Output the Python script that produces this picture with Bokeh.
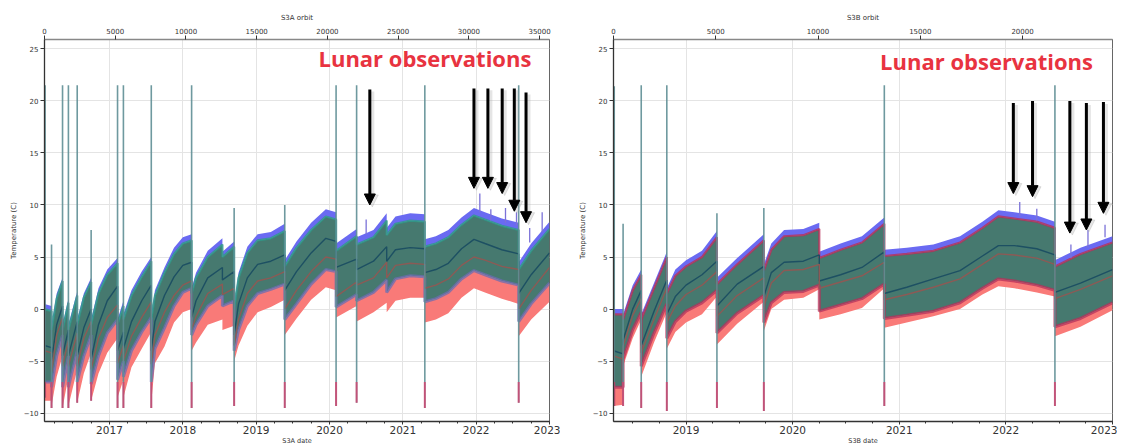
import numpy as np
from bokeh.plotting import figure
from bokeh.models import (Range1d, LinearAxis, FixedTicker, Label, Arrow, NormalHead,
                          ColumnDataSource)
from bokeh.layouts import row
from bokeh.embed import file_html
from bokeh.resources import INLINE

# ---------------- S3A (left panel) ----------------
a_dates = [2016.114, 2016.21,
           2016.21, 2016.28, 2016.36,
           2016.36, 2016.44,
           2016.44, 2016.56,
           2016.56, 2016.65, 2016.75,
           2016.75, 2016.85, 2016.97, 2017.11,
           2017.11, 2017.19,
           2017.19, 2017.30, 2017.44, 2017.57,
           2017.57, 2017.62, 2017.75, 2017.88, 2018.00, 2018.12,
           2018.12, 2018.18, 2018.34, 2018.54,
           2018.54, 2018.70,
           2018.70, 2018.76, 2018.88, 2019.02, 2019.20, 2019.39,
           2019.39, 2019.55, 2019.75, 2019.95, 2020.09,
           2020.09, 2020.37,
           2020.37, 2020.60, 2020.78,
           2020.78, 2020.90, 2021.10, 2021.30,
           2021.30, 2021.45, 2021.62, 2021.80, 2021.97, 2022.12, 2022.35, 2022.58,
           2022.58, 2022.75, 2023.00]
a_blue_top = [0.5, 0.3,
              -1.5, 1.5, 3.0,
              -1.5, 1.0,
              -1.5, 1.7,
              -1.0, 1.5, 3.0,
              -1.0, 2.0, 3.8, 4.9,
              -1.0, 0.8,
              -0.5, 1.8, 3.6, 5.0,
              -0.5, 1.8, 4.0, 5.9, 6.9, 7.2,
              2.0, 3.5, 5.6, 6.8,
              5.5, 6.5,
              0.5, 3.5, 6.0, 7.2, 7.4, 8.2,
              4.7, 6.5, 8.3, 9.6, 9.3,
              6.3, 7.7,
              6.9, 7.6, 9.2,
              7.8, 8.9, 9.2, 9.1,
              6.7, 7.0, 7.6, 8.8, 9.7, 9.3, 8.7, 8.3,
              4.5, 6.3, 8.4]
a_green_top = [0.0, -0.2,
               -2.0, 1.0, 2.7,
               -2.0, 0.6,
               -2.0, 1.3,
               -1.5, 1.1, 2.6,
               -1.5, 1.5, 3.3, 4.4,
               -1.5, 0.3,
               -1.0, 1.3, 3.1, 4.6,
               -1.0, 1.3, 3.5, 5.3, 6.3, 6.6,
               1.5, 3.0, 5.0, 6.2,
               5.0, 6.0,
               0.0, 3.0, 5.4, 6.6, 6.8, 7.5,
               4.1, 5.9, 7.6, 8.9, 8.6,
               5.6, 7.0,
               6.2, 6.9, 8.5,
               7.1, 8.2, 8.5, 8.4,
               6.0, 6.3, 6.9, 8.1, 9.0, 8.6, 8.0, 7.6,
               3.8, 5.6, 7.7]
a_teal_line = [-3.5, -3.7,
               -5.0, -1.5, 0.3,
               -4.5, -2.0,
               -4.5, -1.2,
               -4.5, -1.8, 0.0,
               -4.8, -1.5, 0.8, 2.2,
               -4.0, -2.2,
               -3.8, -1.2, 0.8, 2.3,
               -4.0, -1.2, 1.3, 3.1, 4.2, 4.5,
               -0.8, 0.8, 3.0, 4.0,
               2.8, 3.6,
               -2.5, 0.5, 3.0, 4.3, 4.6, 5.2,
               1.8, 3.6, 5.4, 6.8, 6.5,
               4.0, 4.8,
               3.8, 4.6, 6.0,
               4.6, 5.7, 5.9, 5.8,
               3.5, 3.8, 4.4, 5.8, 6.7, 6.3, 5.7, 5.3,
               1.5, 3.3, 5.4]
a_brown_line = [-4.0, -4.2,
                -6.0, -2.5, -0.8,
                -5.5, -3.0,
                -5.5, -2.3,
                -5.5, -2.8, -1.2,
                -5.8, -2.8, -0.8, 0.4,
                -5.2, -3.5,
                -5.0, -2.6, -0.8, 0.7,
                -5.3, -2.5, -0.3, 1.3, 2.3, 2.7,
                -2.0, -0.7, 1.5, 2.4,
                1.4, 2.0,
                -3.5, -1.0, 1.5, 2.7, 3.0, 3.6,
                0.0, 1.8, 3.6, 5.0, 4.8,
                1.2, 2.6,
                2.3, 3.0, 4.5,
                3.0, 4.2, 4.4, 4.3,
                2.0, 2.3, 2.9, 4.2, 5.0, 4.7, 4.1, 3.8,
                0.0, 1.8, 4.0]
a_green_bottom = [-7.0, -7.0,
                  -7.5, -4.5, -2.5,
                  -7.5, -4.5,
                  -7.5, -4.0,
                  -7.0, -4.5, -2.5,
                  -7.2, -4.5, -2.3, -1.0,
                  -6.8, -5.0,
                  -6.5, -4.0, -2.2, -0.8,
                  -7.0, -3.8, -1.8, 0.3, 1.6, 2.0,
                  -2.5, -1.5, 0.3, 1.3,
                  0.3, 0.8,
                  -4.0, -2.0, 0.3, 1.5, 1.9, 2.4,
                  -1.0, 0.5, 2.4, 3.8, 3.6,
                  0.2, 1.4,
                  0.8, 1.6, 2.8,
                  1.6, 2.9, 3.2, 3.1,
                  0.7, 1.0, 1.6, 2.9, 3.7, 3.3, 2.7, 2.3,
                  -1.2, 0.5, 2.5]
a_red_bottom = [-8.8, -8.8,
                -9.3, -6.5, -4.5,
                -9.5, -6.5,
                -9.3, -5.8,
                -9.0, -6.2, -4.2,
                -8.8, -6.2, -4.2, -2.8,
                -8.5, -6.8,
                -8.5, -5.6, -3.8, -2.2,
                -9.0, -5.2, -3.6, -1.3, -0.3, 0.0,
                -4.0, -3.2, -1.5, -1.0,
                -2.0, -1.6,
                -5.0, -3.5, -1.6, -0.3, 0.2, 0.9,
                -2.5, -0.9, 0.9, 2.1, 1.8,
                -0.8, 0.3,
                -1.2, -0.3, 0.6,
                -0.3, 0.8, 1.1, 1.1,
                -1.3, -1.0, -0.4, 1.1, 2.0, 1.6, 1.0, 0.5,
                -2.6, -1.0, 0.7]
a_spike_dates = [2016.122, 2016.21, 2016.36, 2016.44, 2016.56, 2016.75, 2017.11, 2017.19,
                 2017.57, 2018.12, 2018.70, 2019.39, 2020.09, 2020.37, 2021.30, 2022.58]
a_spike_tops = [21.5, 6.2, 21.5, 21.5, 21.5, 7.6, 21.5, 21.5,
                21.5, 21.5, 9.7, 10.0, 21.5, 21.5, 21.5, 21.5]
a_spike_bottoms = [-8.5, -9.5, -9.5, -9.5, -9.0, -8.8, -9.5, -9.5,
                   -9.5, -9.5, -9.3, -9.5, -9.3, -9.0, -9.5, -9.0]
a_lunar_dates = [2020.50, 2022.05, 2022.20, 2022.40, 2022.55, 2022.73, 2022.90]
a_lunar_tops = [8.6, 11.1, 9.6, 9.7, 9.3, 7.8, 9.3]
a_lunar_bases = [7.2, 9.3, 8.5, 8.3, 8.0, 6.4, 7.4]
a_arrow_dates = [2020.55, 2021.97, 2022.16, 2022.355, 2022.52, 2022.68]
a_arrow_tips = [10.0, 11.6, 11.6, 11.1, 9.4, 8.3]
a_arrow_tails = [21.1, 21.2, 21.2, 21.2, 21.2, 20.8]
a_year_ticks = [2017, 2018, 2019, 2020, 2021, 2022, 2023]
a_orbit_ticks = [0, 5000, 10000, 15000, 20000, 25000, 30000, 35000]

# ---------------- S3B (right panel) ----------------
b_dates = [2018.32, 2018.41,
           2018.41, 2018.50, 2018.58,
           2018.58, 2018.70, 2018.82,
           2018.82, 2018.90, 2019.00, 2019.15, 2019.29,
           2019.29, 2019.48, 2019.73,
           2019.73, 2019.80, 2019.92, 2020.10, 2020.25,
           2020.25, 2020.45, 2020.65, 2020.86,
           2020.86, 2021.07, 2021.32, 2021.57, 2021.78, 2021.93, 2022.08, 2022.29, 2022.46,
           2022.46, 2022.70, 2023.00]
b_blue_top = [0.0, 0.0,
              -0.5, 2.3, 3.8,
              -0.5, 2.5, 5.5,
              2.0, 3.8, 4.7, 5.6, 7.5,
              3.0, 4.9, 7.2,
              4.3, 6.3, 7.6, 7.7, 8.3,
              5.5, 6.3, 7.0, 8.8,
              5.7, 5.9, 6.2, 7.0, 8.4, 9.5, 9.3, 9.0, 8.4,
              4.7, 5.9, 7.0]
b_green_top = [-0.5, -0.5,
               -1.0, 1.8, 3.3,
               -1.0, 2.0, 5.0,
               1.5, 3.2, 4.1, 5.0, 6.9,
               2.4, 4.3, 6.6,
               3.7, 5.7, 7.0, 7.1, 7.7,
               4.9, 5.7, 6.4, 8.2,
               5.1, 5.3, 5.6, 6.4, 7.8, 8.9, 8.7, 8.4, 7.8,
               4.1, 5.3, 6.4]
b_teal_line = [-4.0, -4.3,
               -3.0, 0.0, 1.8,
               -3.5, -0.2, 2.8,
               -0.5, 1.2, 2.3, 3.3, 4.6,
               0.3, 2.4, 4.1,
               1.2, 3.5, 4.5, 4.6, 5.2,
               2.7, 3.3, 4.0, 5.5,
               1.5, 2.1, 2.9, 3.7, 5.1, 6.1, 6.1, 5.8, 5.2,
               1.6, 2.5, 3.8]
b_brown_line = [-4.5, -4.8,
                -3.6, -0.6, 1.0,
                -4.2, -1.0, 2.0,
                -1.3, 0.3, 1.4, 2.3, 3.6,
                -0.7, 1.3, 3.0,
                0.2, 2.5, 3.7, 3.8, 4.3,
                2.0, 2.6, 3.2, 4.5,
                0.9, 1.4, 2.1, 2.9, 4.3, 5.3, 5.2, 4.9, 4.3,
                1.0, 1.9, 3.2]
b_green_bottom = [-7.5, -7.5,
                  -4.8, -2.0, -0.3,
                  -5.5, -2.3, 0.5,
                  -2.8, -1.2, -0.2, 0.6, 1.8,
                  -2.3, -0.4, 1.3,
                  -1.3, 0.6, 1.6, 1.7, 2.3,
                  -0.2, 0.4, 1.0, 2.4,
                  -0.9, -0.6, -0.2, 0.6, 2.0, 2.9, 2.7, 2.3, 1.8,
                  -1.7, -0.9, 0.6]
b_red_bottom = [-9.3, -9.2,
                -5.5, -2.8, -1.0,
                -6.5, -3.2, -0.3,
                -3.8, -2.2, -1.3, -0.5, 1.2,
                -3.4, -1.4, 0.7,
                -2.1, 0.0, 0.9, 1.1, 1.9,
                -1.0, -0.5, 0.1, 2.0,
                -1.8, -1.3, -0.7, 0.0, 1.4, 2.2, 2.0, 1.6, 1.2,
                -2.6, -1.7, -0.1]
b_spike_dates = [2018.327, 2018.41, 2018.58, 2018.82, 2019.29, 2019.73, 2020.86, 2022.46]
b_spike_tops = [21.4, 8.2, 21.5, 21.5, 9.2, 9.7, 21.5, 21.5]
b_spike_bottoms = [-9.3, -9.3, -9.5, -9.8, -9.5, -9.8, -9.3, -9.3]
b_lunar_dates = [2022.13, 2022.29, 2022.61, 2022.77, 2022.93]
b_lunar_tops = [10.3, 9.65, 6.2, 7.6, 8.1]
b_lunar_bases = [8.9, 8.5, 4.9, 5.9, 6.9]
b_arrow_dates = [2022.07, 2022.25, 2022.60, 2022.755, 2022.915]
b_arrow_tips = [11.1, 10.8, 7.3, 7.6, 9.2]
b_arrow_tails = [19.8, 20.0, 20.0, 19.8, 19.9]
b_year_ticks = [2019, 2020, 2021, 2022, 2023]
b_orbit_ticks = [0, 5000, 10000, 15000, 20000]

FONT = "DejaVu Sans"
BLUE = "#6a6af2"
GREEN = "#46796f"
RED = "#f97a78"
TEAL = "#1d5063"
BROWN = "#8c5a55"
Y_LO, Y_HI = -10.8, 25.9


def make_panel(name, dates, btop, gtop, teal, brown, gbot, rbot,
               sdates, stops, sbots, ldates, ltops, lbases,
               adates, atips, atails, yticks, oticks,
               xstart, orbit_end, width, bl, br, bt, bb, label_xy, top_edge, bottom_edge):
    height = 447
    p = figure(width=width, height=height, output_backend="svg", toolbar_location=None,
               x_range=Range1d(xstart, 2023.0), y_range=Range1d(Y_LO, Y_HI),
               min_border_left=bl, min_border_right=br, min_border_top=bt,
               min_border_bottom=bb, x_axis_location=None, y_axis_location=None)
    p.background_fill_color = "white"
    p.border_fill_color = "white"
    p.outline_line_color = "#666666"
    p.outline_line_width = 1

    quarters = [y + q / 4.0 for y in range(2016, 2023) for q in range(1, 4)] + \
               [float(y) for y in range(2016, 2024)]
    xb = LinearAxis(ticker=FixedTicker(ticks=yticks, minor_ticks=quarters),
                    axis_label=name + " date")
    yl = LinearAxis(ticker=FixedTicker(ticks=[-10, -5, 0, 5, 10, 15, 20, 25]),
                    axis_label="Temperature (C)")
    p.extra_x_ranges = {"orbit": Range1d(0, orbit_end)}
    xt = LinearAxis(x_range_name="orbit", ticker=FixedTicker(ticks=oticks),
                    axis_label=name + " orbit")
    for ax in (xb, yl, xt):
        ax.axis_line_color = "#333333"
        ax.axis_line_width = 1.3
        ax.major_tick_out = 4
        ax.major_tick_in = 0
        ax.minor_tick_out = 0
        ax.minor_tick_in = 0
        ax.major_tick_line_color = "#333333"
        ax.major_label_text_font = FONT
        ax.major_label_text_color = "#333333"
        ax.major_label_text_font_size = "7px"
        ax.axis_label_text_font = FONT
        ax.axis_label_text_font_size = "7px"
        ax.axis_label_text_font_style = "normal"
        ax.axis_label_text_color = "#333333"
        ax.major_label_standoff = 2
        ax.axis_label_standoff = 3
    xb.major_tick_out = 3
    xb.minor_tick_out = 2
    xb.minor_tick_line_color = "#333333"
    xb.major_label_text_font_size = "10.5px"
    xb.major_label_standoff = 1
    xb.axis_label_standoff = 0
    xb.axis_label_text_font_size = "6.5px"
    xt.axis_line_color = "#888888"
    p.add_layout(xb, "below")
    p.add_layout(yl, "left")
    p.add_layout(xt, "above")

    p.xgrid.ticker = FixedTicker(ticks=yticks)
    p.ygrid.ticker = FixedTicker(ticks=[-10, -5, 0, 5, 10, 15, 20, 25])
    p.xgrid.grid_line_color = "#e4e4e4"
    p.ygrid.grid_line_color = "#e4e4e4"

    src = ColumnDataSource(dict(x=dates, btop=btop, gtop=gtop, teal=teal, brown=brown,
                                gbot=gbot, rbot=rbot))
    p.varea(x="x", y1="rbot", y2="gbot", source=src, fill_color=RED)
    p.varea(x="x", y1="gtop", y2="btop", source=src, fill_color=BLUE)
    p.varea(x="x", y1="gbot", y2="gtop", source=src, fill_color=GREEN)
    p.line(x="x", y="gbot", source=src, line_color=bottom_edge, line_width=3, line_alpha=0.75)
    p.line(x="x", y="gtop", source=src, line_color=top_edge, line_width=2.2, line_alpha=0.8)
    p.line(x="x", y="teal", source=src, line_color=TEAL, line_width=1.4)
    p.line(x="x", y="brown", source=src, line_color=BROWN, line_width=1.4)

    # decontamination spikes
    p.segment(x0=sdates, y0=sbots, x1=sdates, y1=stops, line_color="#5e8e95",
              line_width=1.6, line_alpha=0.9)
    p.segment(x0=sdates, y0=sbots, x1=sdates, y1=[-7.0] * len(sdates), line_color="#d4406e",
              line_width=2.0, line_alpha=0.8)
    # lunar spikes
    p.segment(x0=ldates, y0=lbases, x1=ldates, y1=ltops, line_color="#7b72d8",
              line_width=1.3)

    # arrows with a soft drop shadow (shadow shifted a few screen pixels)
    frame_w = width - bl - br
    frame_h = height - bt - bb
    dx = 2.5 * (2023.0 - xstart) / frame_w
    dy = 2.0 * (Y_HI - Y_LO) / frame_h
    for d, tip, tail in zip(adates, atips, atails):
        p.add_layout(Arrow(end=NormalHead(size=12, fill_color="#aaaaaa", line_color="#aaaaaa",
                                          fill_alpha=0.3, line_alpha=0.3),
                           x_start=d + dx, y_start=tail - dy, x_end=d + dx, y_end=tip - dy,
                           line_color="#aaaaaa", line_alpha=0.3, line_width=4))
    for d, tip, tail in zip(adates, atips, atails):
        p.add_layout(Arrow(end=NormalHead(size=11, fill_color="black", line_color="black"),
                           x_start=d, y_start=tail, x_end=d, y_end=tip,
                           line_color="black", line_width=3))

    p.add_layout(Label(x=label_xy[0], y=label_xy[1], text="Lunar observations",
                       text_color="#e83340", text_font="Open Sans", text_font_size="22px",
                       text_font_style="bold", text_baseline="middle"))
    return p


p1 = make_panel("S3A", a_dates, a_blue_top, a_green_top, a_teal_line, a_brown_line,
                a_green_bottom, a_red_bottom, a_spike_dates, a_spike_tops, a_spike_bottoms,
                a_lunar_dates, a_lunar_tops, a_lunar_bases,
                a_arrow_dates, a_arrow_tips, a_arrow_tails, a_year_ticks, a_orbit_ticks,
                2016.114, 35700, 560, 44, 11, 32, 23, (2019.85, 24.1), "#2e9a8a", "#6c6cb0")
p2 = make_panel("S3B", b_dates, b_blue_top, b_green_top, b_teal_line, b_brown_line,
                b_green_bottom, b_red_bottom, b_spike_dates, b_spike_tops, b_spike_bottoms,
                b_lunar_dates, b_lunar_tops, b_lunar_bases,
                b_arrow_dates, b_arrow_tips, b_arrow_tails, b_year_ticks, b_orbit_ticks,
                2018.32, 24400, 557, 53, 5, 39, 22, (2020.82, 23.8), "#b8305a", "#b8305a")

layout = row(p1, p2)
open("out.html", "w").write(file_html(layout, INLINE))
